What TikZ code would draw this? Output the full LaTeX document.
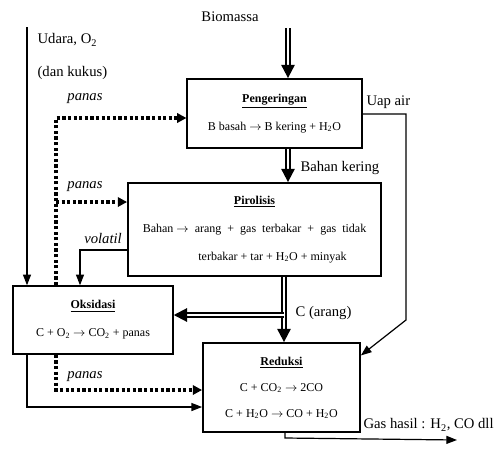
\documentclass[tikz,border=0pt]{standalone}
\usepackage{fontspec}
\setmainfont{Liberation Serif}
\usetikzlibrary{arrows.meta, positioning, calc}

\begin{document}
\begin{tikzpicture}[x=0.75pt, y=-0.75pt,
  proc/.style={rectangle, draw, line width=1.1pt, inner sep=0pt, align=center,
               font=\fontsize{9}{21}\selectfont},
  flow/.style={-{Triangle[length=8pt, width=6pt]}, line width=0.9pt},
  dbl/.style={-{Triangle[length=10pt, width=10pt]}, double, double distance=1pt, line width=1.5pt},
  heat/.style={-{Triangle[length=7pt, width=7pt]}, line width=2.4pt, dash pattern=on 2.4pt off 1.8pt},
  lbl/.style={font=\fontsize{11}{13}\selectfont, inner sep=1pt},
  hlbl/.style={lbl, font=\fontsize{11}{13}\selectfont\itshape}
]
  \useasboundingbox (0,0) rectangle (496,451);

  % process boxes
  \node[proc, minimum width=131pt, minimum height=52pt] (peng) at (274.5,113.5)
    {\underline{\textbf{Pengeringan}}\\ B basah $\rightarrow$ B kering + H\textsubscript{2}O};
  \node[proc, minimum width=190pt, minimum height=70pt] (piro) at (254.5,229.5)
    {\underline{\textbf{Pirolisis}}\\ Bahan $\rightarrow$\ \ arang\ \ +\ \ gas\ \ terbakar\ \ +\ \ gas\ \ tidak\\
     \hspace*{3em}terbakar + tar + H\textsubscript{2}O + minyak};
  \node[proc, minimum width=120pt, minimum height=51pt] (oks) at (93,320)
    {\underline{\textbf{Oksidasi}}\\ C + O\textsubscript{2} $\rightarrow$ CO\textsubscript{2} + panas};
  \node[proc, minimum width=118pt, minimum height=67pt, font=\fontsize{9}{19.5}\selectfont] (red) at (281.5,387.5)
    {\underline{\textbf{Reduksi}}\\ C + CO\textsubscript{2} $\rightarrow$ 2CO\\
     C + H\textsubscript{2}O $\rightarrow$ CO + H\textsubscript{2}O};

  % labels
  \node[lbl] (biomassa) at (230,17) {Biomassa};
  \node[lbl, anchor=west] (udara) at (36,40) {Udara, O\textsubscript{2}};
  \node[lbl, anchor=west] (kukus) at (36,73) {(dan kukus)};
  \node[hlbl] (panas1) at (85,99) {panas};
  \node[hlbl] (panas2) at (85,187) {panas};
  \node[hlbl] (volatil) at (103,238) {volatil};
  \node[hlbl] (panas3) at (85,377) {panas};
  \node[lbl, anchor=west] (uap) at (365,102) {Uap air};
  \node[lbl, anchor=west] (kering) at (299,168) {Bahan kering};
  \node[lbl, anchor=west] (arang) at (294,313) {C (arang)};
  \node[lbl, anchor=west] (gas) at (362,425) {Gas hasil : H\textsubscript{2}, CO dll};

  % helper points
  \coordinate (bio) at (288,28);
  \coordinate (udaraTop) at (27,27);
  \coordinate (dotTop) at (56,118);
  \coordinate (dotMid) at (56,202);
  \coordinate (dotBot) at (56,390);
  \coordinate (volA) at (80,250);
  \coordinate (uapA) at (406,114);
  \coordinate (uapB) at (406,320);
  \coordinate (arangJ) at (284,315);
  \coordinate (botB) at (27,407);
  \coordinate (gasA) at (285,438);
  \coordinate (gasEnd) at (457,440);

  % main flow
  \draw[dbl] (bio) -- (bio |- peng.north);
  \draw[dbl] (bio |- peng.south) -- (bio |- piro.north);
  \draw[dbl] (arangJ |- piro.south) -- (arangJ |- red.north);
  \draw[dbl] (arangJ) -- (arangJ -| oks.east);

  % air, steam, volatiles
  \draw[flow] (udaraTop) -- (udaraTop |- oks.north);
  \draw[flow] (volA -| piro.west) -- (volA) -- (volA |- oks.north);
  \draw[flow] (peng.east |- uapA) -- (uapA) -- (uapB) -- (red.22);
  \draw[flow] (udaraTop |- oks.south) -- (botB) -- (botB -| red.west);
  \draw[flow] (red.south -| gasA) -- (gasA) -- (gasEnd);

  % heat
  \draw[heat] (dotTop |- oks.north) -- (dotTop) -- (dotTop -| peng.west);
  \draw[heat] (dotMid) -- (dotMid -| piro.west);
  \draw[heat] (dotTop |- oks.south) -- (dotBot) -- (dotBot -| red.west);
\end{tikzpicture}
\end{document}
